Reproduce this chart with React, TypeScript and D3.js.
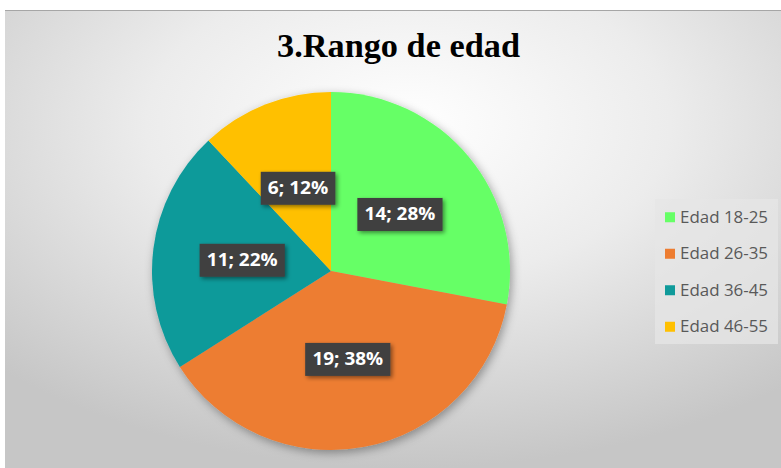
import React from "react";
import * as d3 from "d3";

const categories = ["Edad 18-25", "Edad 26-35", "Edad 36-45", "Edad 46-55"];
const values = [14, 19, 11, 6];
const percents = ["28%", "38%", "22%", "12%"];
const colors = ["#66FF66", "#ED7D31", "#0F9A9A", "#FFC000"];
const title = "3.Rango de edad";

export default function App() {
  const W = 781, H = 468;
  const cx = 331, cy = 271, R = 179;
  const pie = d3.pie<number>().sort(null).value((d) => d)(values);
  const arc = d3.arc<d3.PieArcDatum<number>>().innerRadius(0).outerRadius(R);
  const legendY = d3.scaleBand<string>().domain(categories).range([199, 345]);
  return (
    <svg width={W} height={H} style={{ position: "absolute", left: 0, top: 0 }}>
      <defs>
        <radialGradient id="bg" cx="0.52" cy="0.25" r="0.75">
          <stop offset="0" stopColor="#ffffff" />
          <stop offset="0.45" stopColor="#ececec" />
          <stop offset="1" stopColor="#c6c6c6" />
        </radialGradient>
        <filter id="sh" x="-20%" y="-20%" width="140%" height="140%">
          <feDropShadow dx="2" dy="3" stdDeviation="5" floodColor="#000" floodOpacity="0.35" />
        </filter>
        <filter id="sh2" x="-20%" y="-30%" width="150%" height="170%">
          <feDropShadow dx="2" dy="2" stdDeviation="2" floodColor="#000" floodOpacity="0.45" />
        </filter>
      </defs>
      <rect x={0} y={0} width={W} height={H} fill="#ffffff" />
      <rect x={5} y={10} width={W - 5} height={H - 10} fill="url(#bg)" />
      <line x1={5} x2={W} y1={10.5} y2={10.5} stroke="#a6a6a6" strokeWidth={1} />
      <text x={277} y={57} textLength={243} lengthAdjust="spacingAndGlyphs" fontFamily="'Liberation Serif', serif" fontWeight="bold" fontSize={33} fill="#000">
        {title}
      </text>
      <g transform={`translate(${cx},${cy})`}>
        <g filter="url(#sh)">
          {pie.map((p, i) => (
            <path key={i} d={arc(p) || ""} fill={colors[i]} />
          ))}
        </g>
        {pie.map((p, i) => {
          const [x, y] = arc.centroid(p);
          const label = `${values[i]}; ${percents[i]}`;
          const w = label.length * 10.6 + 11;
          return (
            <g key={i} transform={`translate(${x},${y})`}>
              <rect x={-w / 2} y={-16} width={w} height={33} fill="#404040" filter="url(#sh2)" />
              <text x={0} y={6.5} textAnchor="middle" textLength={label.length * 10.1} lengthAdjust="spacingAndGlyphs" fontFamily="'Open Sans', sans-serif" fontWeight="bold" fontSize={17} fill="#ffffff">
                {label}
              </text>
            </g>
          );
        })}
      </g>
      <rect x={655} y={199} width={123} height={145} fill="#e6e6e6" opacity={0.75} />
      {categories.map((c, i) => {
        const y = (legendY(c) || 0) + legendY.bandwidth() / 2;
        return (
          <g key={c}>
            <rect x={665} y={y - 5} width={10} height={10} fill={colors[i]} />
            <text x={680} y={y + 5.5} textLength={88} lengthAdjust="spacingAndGlyphs" fontFamily="'Open Sans', sans-serif" fontSize={15.5} fill="#595959">
              {c}
            </text>
          </g>
        );
      })}
    </svg>
  );
}
